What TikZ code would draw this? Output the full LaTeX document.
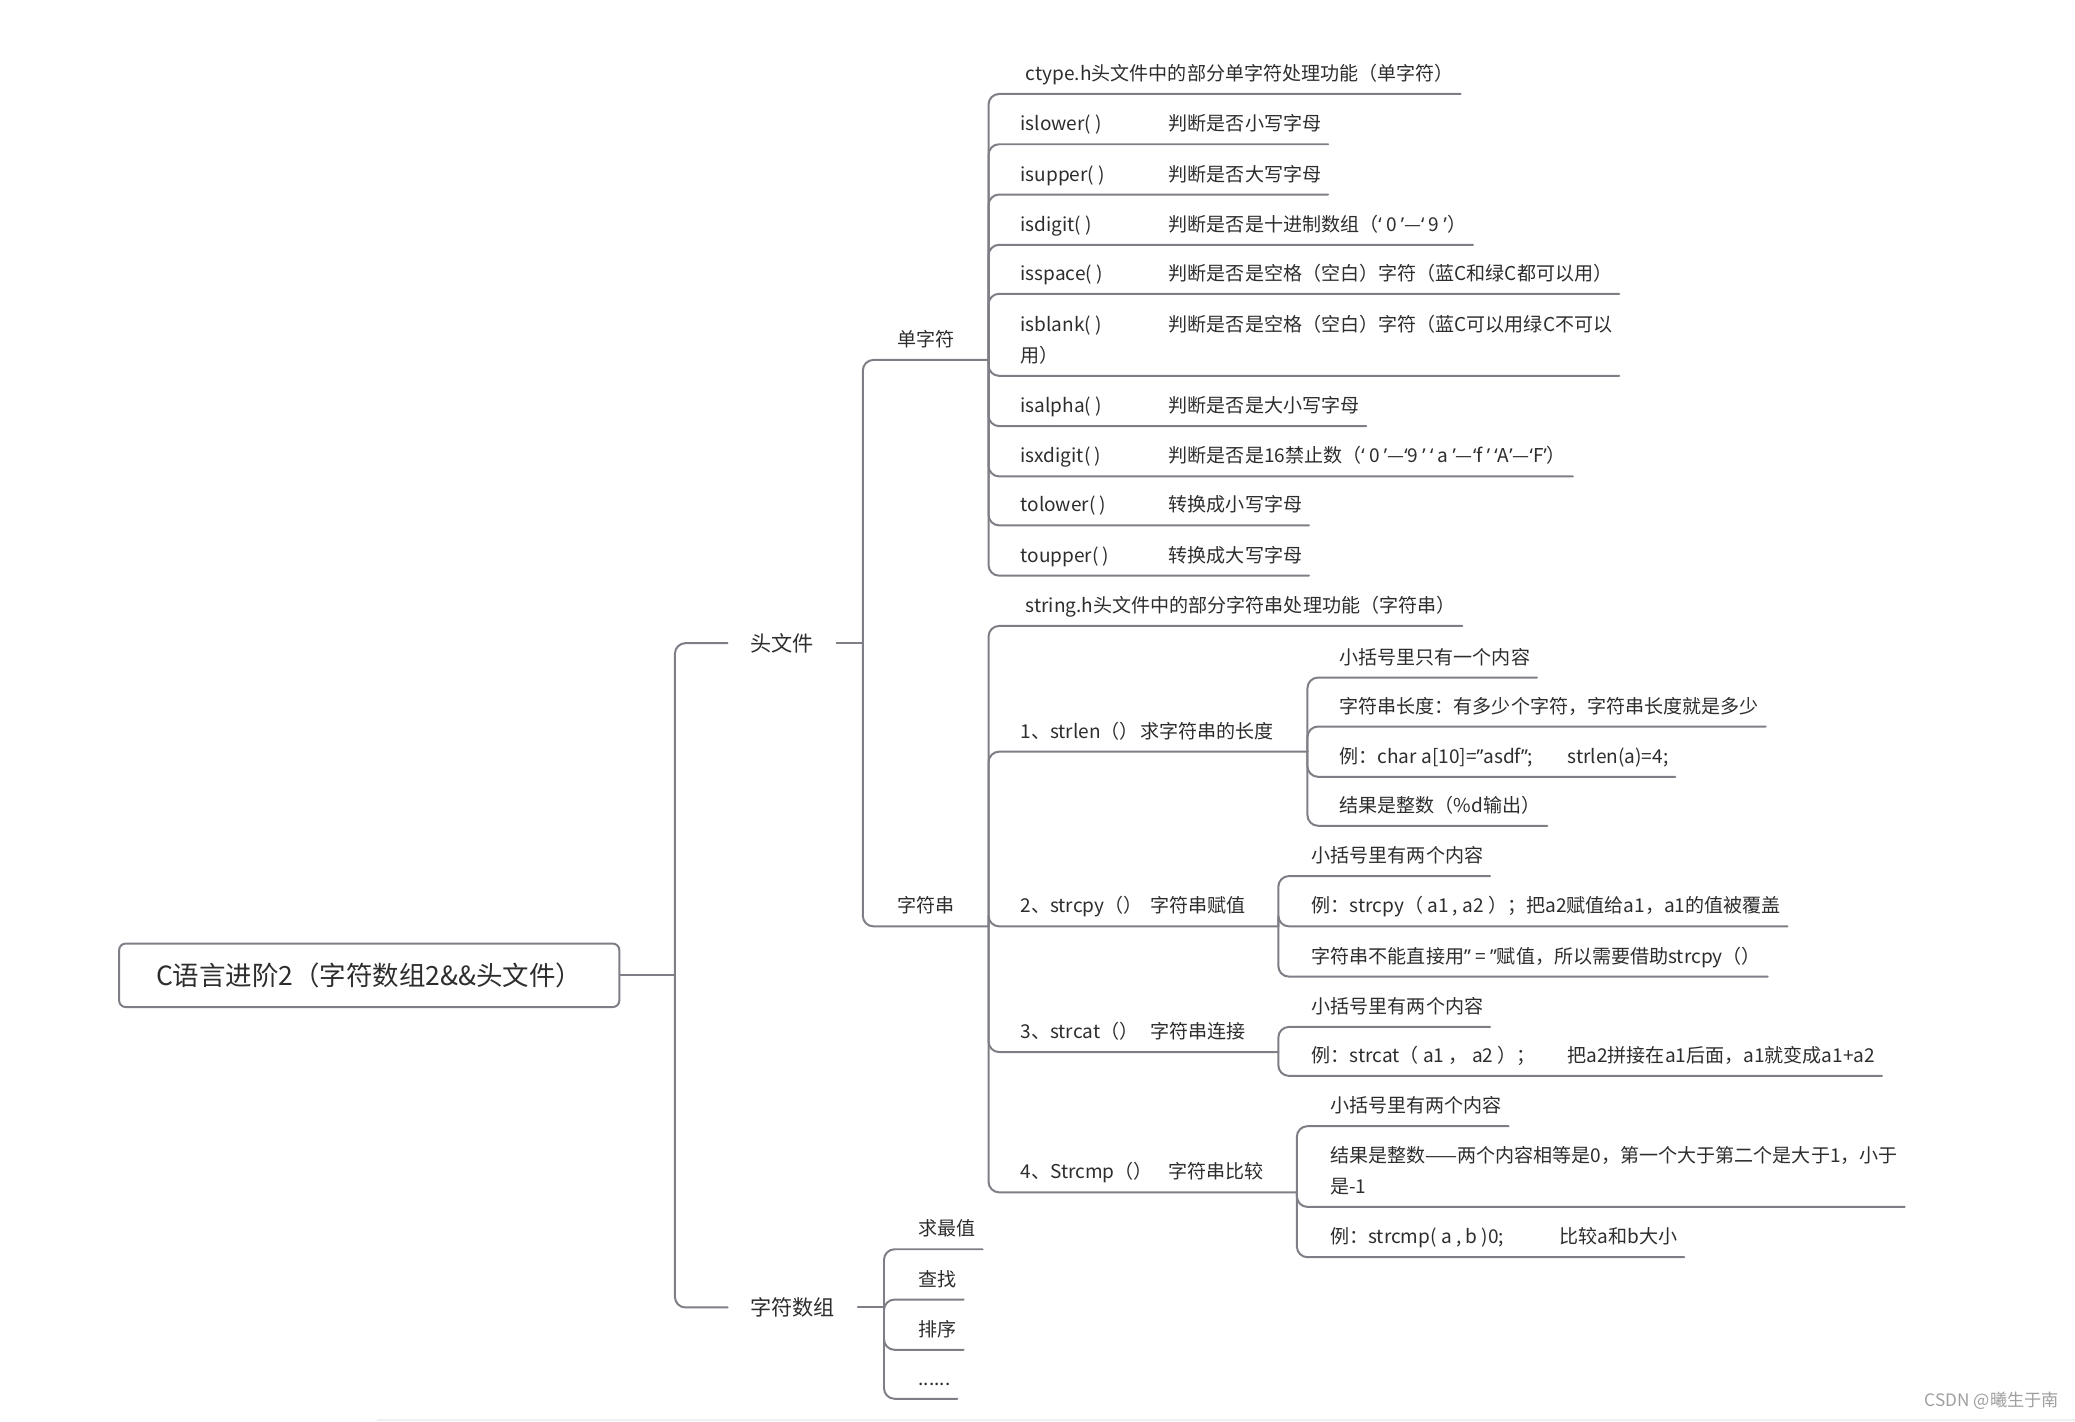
\documentclass[tikz,border=0pt]{standalone}
\usepackage{fontspec}
\setmainfont{Noto Sans CJK SC}
\newfontfamily\quotefont{Noto Sans}
\usepackage{tikz}
\usepackage{xcolor}
\definecolor{linegray}{RGB}{126,126,134}
\definecolor{textgray}{RGB}{45,45,45}
\newcommand\fname[2]{\makebox[112pt][l]{#1}#2}
\newcommand\twolines[2]{\vbox{\hbox{#1}\hbox{#2}}}
\newcommand\oq{{\quotefont ‘}}
\newcommand\cq{{\quotefont ’}}
\newcommand\dq{{\quotefont ”}}
\tikzset{
  branch/.style={draw=linegray,line width=1.5pt,rounded corners=8pt},
  rootbox/.style={draw=linegray,line width=1.5pt,rounded corners=5pt,minimum width=378pt,minimum height=48pt,inner sep=0pt,text=textgray,font=\fontsize{20}{24}\selectfont},
  topic/.style={inner xsep=17pt,inner ysep=0pt,text=textgray,font=\fontsize{16}{19}\selectfont},
  leaf/.style={anchor=south west,inner xsep=5pt,inner ysep=6pt,text depth=4pt,text=textgray,font=\fontsize{14.4}{23}\selectfont},
}

\begin{document}
\begin{tikzpicture}[x=1pt,y=-1pt,line cap=round]
\useasboundingbox (0,0) rectangle (1568,1074);
% root and first level
\node[rootbox] (root) at (279,737) {C语言进阶2（字符数组2\&\&头文件）};
\coordinate (root-r) at (510,737);
\draw[branch] (root.east) -- (root-r);
\node[topic] (tou) at (591,486) {头文件};
\node[topic] (zfsz) at (599,988) {字符数组};
\draw[branch] (root-r) |- (tou.west);
\draw[branch] (root-r) |- (zfsz.west);
\coordinate (tou-r) at (652,486);
\coordinate (zfsz-r) at (668,988);
\draw[branch] (tou.east) -- (tou-r);
\draw[branch] (zfsz.east) -- (zfsz-r);
% second level
\node[leaf] (dan) at (673,272) {单字符};
\node[leaf] (chuan) at (673,700) {字符串};
\coordinate (dan-r) at (747,272);
\coordinate (chuan-r) at (747,700);
\draw[branch] (tou-r) |- (dan-r);
\draw[branch] (tou-r) |- (chuan-r);
% ctype.h
\node[leaf] (ctype) at (770,71) {ctype.h头文件中的部分单字符处理功能（单字符）};
\node[leaf] (islower) at (766,109) {\fname{islower( )}{判断是否小写字母}};
\node[leaf] (isupper) at (766,147) {\fname{isupper( )}{判断是否大写字母}};
\node[leaf] (isdigit) at (766,185) {\fname{isdigit( )}{判断是否是十进制数组（\oq{} 0 \cq—\oq{} 9 \cq）}};
\node[leaf] (isspace) at (766,222) {\fname{isspace( )}{判断是否是空格（空白）字符（蓝C和绿C都可以用）}};
\node[leaf] (isblank) at (766,284) {\twolines{\fname{isblank( )}{判断是否是空格（空白）字符（蓝C可以用绿C不可以}}{用）}};
\node[leaf] (isalpha) at (766,322) {\fname{isalpha( )}{判断是否是大小写字母}};
\node[leaf] (isxdigit) at (766,360) {\fname{isxdigit( )}{判断是否是16禁止数（\oq{} 0 \cq—\oq 9 \cq{} \oq{} a \cq—\oq f \cq{} \oq A\cq—\oq F\cq）}};
\node[leaf] (tolower) at (766,397) {\fname{tolower( )}{转换成小写字母}};
\node[leaf] (toupper) at (766,435) {\fname{toupper( )}{转换成大写字母}};
\foreach \c in {ctype,islower,isupper,isdigit,isspace,isblank,isalpha,isxdigit,tolower,toupper}
  \draw[branch] (dan-r) |- (\c.south east);
% string.h
\node[leaf] (string-h) at (770,473) {string.h头文件中的部分字符串处理功能（字符串）};
\node[leaf] (strlen) at (766,568) {1、strlen（）\hspace{1pt}求字符串的长度};
\node[leaf] (strcpy) at (766,700) {2、strcpy（）\hspace{6pt}字符串赋值};
\node[leaf] (strcat) at (766,795) {3、strcat（）\hspace{9pt}字符串连接};
\node[leaf] (strcmp) at (766,901) {4、Strcmp（）\hspace{12pt}字符串比较};
\coordinate (strlen-r) at (988,568);
\coordinate (strcpy-r) at (966,700);
\coordinate (strcat-r) at (966,795);
\coordinate (strcmp-r) at (980,901);
\draw[branch] (chuan-r) |- (string-h.south east);
\foreach \c in {strlen-r,strcpy-r,strcat-r,strcmp-r}
  \draw[branch] (chuan-r) |- (\c);
% strlen
\node[leaf] (strlen-a) at (1007,512) {小括号里只有一个内容};
\node[leaf] (strlen-b) at (1007,549) {字符串长度：有多少个字符，字符串长度就是多少};
\node[leaf] (strlen-c) at (1007,587) {例：char a[10]=\dq{}asdf\dq;\hspace{26pt}strlen(a)=4;};
\node[leaf] (strlen-d) at (1007,624) {结果是整数（\%d输出）};
\foreach \c in {strlen-a,strlen-b,strlen-c,strlen-d}
  \draw[branch] (strlen-r) |- (\c.south east);
% strcpy
\node[leaf] (strcpy-a) at (986,662) {小括号里有两个内容};
\node[leaf] (strcpy-b) at (986,700) {例：strcpy（ a1 , a2 ）；把a2赋值给a1，a1的值被覆盖};
\node[leaf] (strcpy-c) at (986,738) {字符串不能直接用\dq{} = \dq{}赋值，所以需要借助strcpy（）};
\foreach \c in {strcpy-a,strcpy-b,strcpy-c}
  \draw[branch] (strcpy-r) |- (\c.south east);
% strcat
\node[leaf] (strcat-a) at (986,776) {小括号里有两个内容};
\node[leaf] (strcat-b) at (986,813) {例：strcat（ a1 ， a2 ）；\hspace{24pt}把a2拼接在a1后面，a1就变成a1+a2};
\foreach \c in {strcat-a,strcat-b}
  \draw[branch] (strcat-r) |- (\c.south east);
% strcmp
\node[leaf] (strcmp-a) at (1000,851) {小括号里有两个内容};
\node[leaf] (strcmp-b) at (1000,912) {\twolines{结果是整数——两个内容相等是0，第一个大于第二个是大于1，小于}{是-1}};
\node[leaf] (strcmp-c) at (1000,950) {例：strcmp( a , b )0;\hspace{42pt}比较a和b大小};
\foreach \c in {strcmp-a,strcmp-b,strcmp-c}
  \draw[branch] (strcmp-r) |- (\c.south east);
% char arrays
\node[leaf] (max) at (689,944) {求最值};
\node[leaf] (find) at (689,982) {查找};
\node[leaf] (sort) at (689,1020) {排序};
\node[leaf] (more) at (689,1057) {......};
\foreach \c in {max,find,sort,more}
  \draw[branch] (zfsz-r) |- (\c.south east);
% footer
\draw[gray!12,line width=1pt] (285,1073) -- (1568,1073);
\node[anchor=base east,inner sep=0pt,text=gray!75,font=\fontsize{13}{15}\selectfont] (mark) at (1556,1063) {CSDN @曦生于南};
\end{tikzpicture}
\end{document}
